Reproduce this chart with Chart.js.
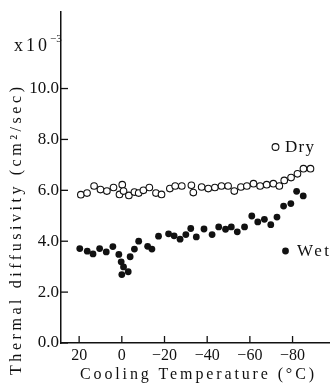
<!DOCTYPE html>
<html>
<head>
<meta charset="utf-8">
<script src="https://cdn.jsdelivr.net/npm/chart.js@4"></script>
<style>
  html, body { margin: 0; padding: 0; background: #fff; }
  #wrap { width: 335px; height: 385px; position: relative; }
</style>
</head>
<body>
<div id="wrap"><canvas id="chart"></canvas></div>
<script>
'use strict';

// ── Datos ─────────────────────────────────────────────────────────────────────

const dryTemp = [19.2, 16.3, 13.0, 10.0, 7.0, 3.9, 1.1, -0.2, -0.8, -3.3, -5.9, -7.9, -10.1,
  -12.9, -16.0, -18.6, -22.5, -25.0, -28.1, -32.6, -33.5, -37.4, -40.5, -43.6, -46.7, -49.8,
  -52.7, -55.8, -58.6, -61.7, -64.8, -67.9, -71.0, -73.8, -76.1, -79.3, -82.3, -85.1, -88.4];
const dryDiff = [5.83, 5.89, 6.17, 6.03, 5.97, 6.11, 5.84, 6.22, 5.97, 5.80, 5.93, 5.89, 6.00,
  6.11, 5.89, 5.84, 6.07, 6.17, 6.17, 6.20, 5.91, 6.13, 6.07, 6.11, 6.17, 6.17,
  5.97, 6.13, 6.17, 6.26, 6.17, 6.22, 6.26, 6.17, 6.39, 6.50, 6.65, 6.85, 6.85];

const wetTemp = [19.7, 16.2, 13.5, 10.4, 7.3, 4.2, 1.4, 0.3, -0.8, 0.0, -3.0, -3.9, -5.9, -7.9,
  -12.1, -14.1, -17.2, -21.9, -24.5, -27.3, -30.0, -32.3, -34.9, -38.5, -42.3, -45.4, -48.6,
  -51.3, -54.1, -57.5, -60.9, -63.7, -66.8, -69.8, -72.7, -75.8, -79.2, -81.9, -85.0];
const wetDiff = [3.71, 3.61, 3.50, 3.71, 3.58, 3.79, 3.48, 3.19, 2.99, 2.69, 2.80, 3.39, 3.69, 4.00,
  3.80, 3.69, 4.20, 4.29, 4.21, 4.08, 4.26, 4.50, 4.17, 4.48, 4.26, 4.56, 4.47,
  4.56, 4.37, 4.56, 4.99, 4.76, 4.86, 4.65, 4.95, 5.38, 5.48, 5.96, 5.78];

const xTicks = [20, 0, -20, -40, -60, -80];
const yTicks = [0, 2, 4, 6, 8, 10];

const SERIF = "'Liberation Serif', 'DejaVu Serif', serif";
const INK = '#111';

const toPoints = (xs, ys) => xs.map((x, i) => ({ x, y: ys[i] }));

// ── Ticks hacia adentro + textos ──────────────────────────────────────────────

function spacedText(ctx, text, x, y, target) {
  ctx.letterSpacing = '0px';
  const natural = ctx.measureText(text).width;
  const sp = Math.max(0, (target - natural) / (text.length - 1));
  ctx.letterSpacing = sp + 'px';
  ctx.fillText(text, ctx.textAlign === 'center' ? x + sp / 2 : x, y);
  ctx.letterSpacing = '0px';
}

const decorPlugin = {
  id: 'decor',
  afterDraw(chart) {
    const { ctx, chartArea: a, scales: { x, y } } = chart;
    ctx.save();
    ctx.strokeStyle = INK;
    ctx.lineWidth = 1.3;
    xTicks.forEach(v => {
      const px = x.getPixelForValue(v);
      ctx.beginPath(); ctx.moveTo(px, a.bottom); ctx.lineTo(px, a.bottom - 7); ctx.stroke();
    });
    yTicks.forEach(v => {
      const py = y.getPixelForValue(v);
      ctx.beginPath(); ctx.moveTo(a.left, py); ctx.lineTo(a.left + 7, py); ctx.stroke();
    });

    ctx.fillStyle = INK;
    ctx.textBaseline = 'middle';

    // x10^-3
    ctx.textAlign = 'left';
    ctx.font = `18px ${SERIF}`;
    spacedText(ctx, 'x10', 14, 46, 33);
    ctx.font = `11px ${SERIF}`;
    ctx.fillText('−3', 50, 39);

    // Títulos de ejes
    ctx.font = `16px ${SERIF}`;
    ctx.textAlign = 'center';
    spacedText(ctx, 'Cooling Temperature (°C)', 197, 375, 234);
    ctx.save();
    ctx.translate(17, 231);
    ctx.rotate(-Math.PI / 2);
    spacedText(ctx, 'Thermal diffusivity (cm²/sec)', 0, 0, 288);
    ctx.restore();

    // Leyenda
    ctx.textAlign = 'left';
    ctx.font = `17px ${SERIF}`;
    ctx.lineWidth = 1.1;
    ctx.beginPath(); ctx.arc(275.5, 147, 3.4, 0, Math.PI * 2); ctx.stroke();
    spacedText(ctx, 'Dry', 285, 148, 29);
    ctx.beginPath(); ctx.arc(285.5, 251, 3.4, 0, Math.PI * 2); ctx.fill();
    spacedText(ctx, 'Wet', 297, 252, 32);
    ctx.restore();
  },
};

// ── Gráfico ───────────────────────────────────────────────────────────────────

new Chart(document.getElementById('chart'), {
  type: 'scatter',
  data: {
    datasets: [
      {
        label: 'Dry',
        data: toPoints(dryTemp, dryDiff),
        pointRadius: 3.3,
        pointBorderWidth: 1.1,
        pointBorderColor: INK,
        pointBackgroundColor: '#fff',
      },
      {
        label: 'Wet',
        data: toPoints(wetTemp, wetDiff),
        pointRadius: 3.4,
        pointBorderWidth: 0,
        pointBorderColor: INK,
        pointBackgroundColor: INK,
      },
    ],
  },
  options: {
    responsive: true,
    maintainAspectRatio: false,
    animation: false,
    layout: { padding: { top: 10, right: 3, left: 0, bottom: 0 } },
    plugins: { legend: { display: false }, tooltip: { enabled: false } },
    scales: {
      x: {
        type: 'linear',
        reverse: true,
        min: -97.5, max: 28.5,
        afterBuildTicks: s => { s.ticks = xTicks.map(value => ({ value })); },
        afterFit: s => { s.height = 42; },
        grid: { display: false, drawTicks: false },
        border: { display: true, color: INK, width: 1.5 },
        ticks: {
          color: INK, padding: 3, font: { family: SERIF, size: 16 },
          callback: v => (v < 0 ? '−' + Math.abs(v) : String(v)),
        },
      },
      y: {
        type: 'linear',
        min: 0, max: 13,
        afterBuildTicks: s => { s.ticks = yTicks.map(value => ({ value })); },
        afterFit: s => { s.width = 61; },
        grid: { display: false, drawTicks: false },
        border: { display: true, color: INK, width: 1.5 },
        ticks: {
          color: INK, padding: 2, font: { family: SERIF, size: 17 },
          callback: v => Number(v).toFixed(1),
        },
      },
    },
  },
  plugins: [decorPlugin],
});
</script>
</body>
</html>
